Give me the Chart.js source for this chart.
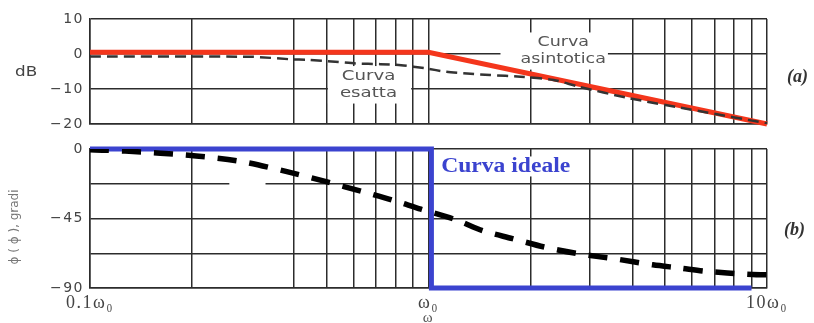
<!DOCTYPE html>
<html>
<head>
<meta charset="utf-8">
<script src="https://cdn.jsdelivr.net/npm/chart.js@4/dist/chart.umd.min.js"></script>
<style>
  html, body { margin: 0; padding: 0; background: #fff; }
  #wrap { position: relative; width: 814px; height: 323px; overflow: hidden; background: #fff; }
  #top { position: absolute; left: 0; top: 0; }
  #bot { position: absolute; left: 0; top: 140px; }
</style>
</head>
<body>
<div id="wrap">
  <canvas id="top" width="814" height="140"></canvas>
  <canvas id="bot" width="814" height="183"></canvas>
</div>
<script>
// ---------- data ----------
const xGridTicks = [0.1, 0.2, 0.4, 0.5, 0.6, 0.7, 0.8, 0.9, 1, 2, 3, 4, 5, 6, 7, 8, 9, 10];
const xLabelValues = [0.1, 1, 10];
const xLabelTexts = ['0.1ω₀', 'ω₀', '10ω₀'];

const magTicks = [-20, -10, 0, 10];
const magTickLabels = ['−20', '−10', '0', '10'];

const phaseGrid = [-90, -67.5, -45, -22.5, 0];
const phaseLabelValues = [-90, -45, 0];
const phaseLabelTexts = ['−90', '−45', '0'];

// magnitude (a)
const asymW  = [0.1, 1, 10];
const asymDb = [0.5, 0.5, -20];
const exactW  = [0.1, 0.3, 0.39, 0.44, 0.53, 0.61, 0.72, 0.83, 0.98, 1.13, 1.3, 1.52, 1.87, 2.34, 2.77, 3.9, 6.3, 10];
const exactDb = [-0.7, -0.8, -1.5, -1.7, -2.2, -2.7, -2.9, -3.2, -4.1, -5.1, -5.6, -6.0, -6.5, -7.4, -9.3, -12.6, -16.3, -19.8];

// phase (b)
const phaseW   = [0.1, 0.112, 0.144, 0.181, 0.228, 0.287, 0.379, 0.505, 0.635, 0.78, 0.95, 1.2, 1.45, 1.77, 2.2, 2.8, 3.6, 4.6, 5.5, 6.7, 8.7, 10];
const phaseDeg = [-0.5, -0.8, -2, -3.5, -5.5, -8.5, -14.5, -21.5, -27.5, -33, -39, -45.7, -53, -58, -63.5, -68, -71.3, -75, -77, -79.3, -81, -81.5];
const idealW   = [0.1, 1.02, 1.02, 9];
const idealDeg = [0, 0, -90, -90];

// ---------- helpers ----------
const pts = (xs, ys) => xs.map((x, i) => ({ x: x, y: ys[i] }));
const GRID = '#2c2c2c';
const TICK = '#444';

function stretched(ctx, text, x, y, font, color, sx) {
  ctx.save();
  ctx.letterSpacing = '0px';
  ctx.font = font;
  ctx.fillStyle = color;
  ctx.textAlign = 'center';
  ctx.textBaseline = 'middle';
  ctx.translate(x, y);
  ctx.scale(sx, 1);
  ctx.fillText(text, 0, 0);
  ctx.restore();
}
function textW(ctx, text, font, sx) {
  ctx.save(); ctx.letterSpacing = '0px'; ctx.font = font;
  const w = ctx.measureText(text).width * sx; ctx.restore(); return w;
}

const spacingPlugin = {
  id: 'spacing',
  beforeDraw(chart) { chart.ctx.letterSpacing = '1.5px'; },
  afterDraw(chart) { chart.ctx.letterSpacing = '0px'; }
};

// annotation boxes with white background, placed in data coordinates
function notesPlugin(notes, masks, extras) {
  return {
    id: 'notes',
    beforeDatasetsDraw(chart) {
      const ctx = chart.ctx, xs = chart.scales.x, ys = chart.scales.y;
      (masks || []).forEach(m => {
        const x1 = xs.getPixelForValue(m.w[0]), x2 = xs.getPixelForValue(m.w[1]);
        const y1 = ys.getPixelForValue(m.v[0]), y2 = ys.getPixelForValue(m.v[1]);
        ctx.save(); ctx.fillStyle = '#fff';
        ctx.fillRect(Math.min(x1, x2), Math.min(y1, y2), Math.abs(x2 - x1), Math.abs(y2 - y1));
        ctx.restore();
      });
      notes.forEach(n => {
        const cx = xs.getPixelForValue(n.w);
        const cys = n.v.map(v => ys.getPixelForValue(v));
        const maxW = Math.max(...n.lines.map(t => textW(ctx, t, n.font, n.sx)));
        const left = n.align === 'left' ? cx : cx - maxW / 2;
        ctx.save(); ctx.fillStyle = '#fff';
        ctx.fillRect(left - n.padL, cys[0] - n.half - n.padY, maxW + n.padL + n.padR,
                     cys[cys.length - 1] - cys[0] + 2 * (n.half + n.padY));
        ctx.restore();
        n.lines.forEach((t, i) => {
          const w = textW(ctx, t, n.font, n.sx);
          stretched(ctx, t, left + (n.align === 'left' ? w / 2 : maxW / 2), cys[i], n.font, n.color, n.sx);
        });
      });
    },
    afterDraw(chart) {
      const ctx = chart.ctx;
      (extras || []).forEach(e => {
        ctx.save(); ctx.letterSpacing = '0px'; ctx.font = e.font; ctx.fillStyle = e.color;
        ctx.textAlign = e.align || 'left'; ctx.textBaseline = 'middle';
        ctx.translate(e.x, e.y); if (e.rot) ctx.rotate(e.rot); ctx.scale(e.sx || 1, 1);
        ctx.fillText(e.text, 0, 0); ctx.restore();
      });
    }
  };
}

const xScaleBase = {
  type: 'logarithmic',
  min: 0.1, max: 10,
  afterBuildTicks(scale) { scale.ticks = xGridTicks.map(v => ({ value: v })); },
  grid: { color: GRID, lineWidth: 1.5, drawTicks: false },
  border: { color: GRID, width: 1.5 }
};

// ---------- top chart (a) ----------
new Chart(document.getElementById('top'), {
  type: 'line',
  data: {
    datasets: [
      { data: pts(exactW, exactDb), borderColor: '#333', borderWidth: 2.5, borderDash: [11, 6],
        pointRadius: 0, tension: 0.25, fill: false },
      { data: pts(asymW, asymDb), borderColor: '#f4361c', borderWidth: 5, pointRadius: 0,
        tension: 0, fill: false, clip: false }
    ]
  },
  options: {
    responsive: false, animation: false, events: [],
    layout: { padding: { left: 0, right: 47, top: 19, bottom: 0 } },
    plugins: { legend: { display: false }, tooltip: { enabled: false } },
    scales: {
      x: Object.assign({}, xScaleBase, {
        ticks: { display: false },
        afterFit(scale) { scale.height = 16; }
      }),
      y: {
        min: -20, max: 10,
        afterBuildTicks(scale) { scale.ticks = magTicks.map(v => ({ value: v })); },
        ticks: {
          color: TICK, padding: 6,
          font: { family: 'DejaVu Sans', size: 14, lineHeight: 0.4 },
          callback: (v) => magTickLabels[magTicks.indexOf(v)]
        },
        grid: { color: GRID, lineWidth: 1.5, drawTicks: false },
        border: { color: GRID, width: 1.5 },
        afterFit(scale) { scale.width = 90; }
      }
    }
  },
  plugins: [spacingPlugin, notesPlugin(
    [
      { lines: ['Curva', 'esatta'], w: 0.665, v: [-6.3, -11.3], font: '14px "DejaVu Sans"',
        color: '#555', sx: 1.3, half: 7, padL: 12, padR: 14, padY: 3 },
      { lines: ['Curva', 'asintotica'], w: 2.5, v: [3.3, -1.6], font: '14px "DejaVu Sans"',
        color: '#555', sx: 1.25, half: 7, padL: 20, padR: 2, padY: 3 }
    ],
    [],
    [
      { text: 'dB', x: 15, y: 72, font: '14px "DejaVu Sans"', color: '#444', sx: 1.2 },
      { text: '(a)', x: 787, y: 77, font: 'italic bold 18px "Liberation Serif"', color: '#333' }
    ]
  )]
});

// ---------- bottom chart (b) ----------
new Chart(document.getElementById('bot'), {
  type: 'line',
  data: {
    datasets: [
      { data: pts(phaseW, phaseDeg), borderColor: '#000', borderWidth: 5.5, borderDash: [19, 13],
        pointRadius: 0, tension: 0.3, fill: false },
      { data: pts(idealW, idealDeg), borderColor: '#3b43cf', borderWidth: 5, pointRadius: 0,
        tension: 0, fill: false, clip: false }
    ]
  },
  options: {
    responsive: false, animation: false, events: [],
    layout: { padding: { left: 0, right: 47, top: 9, bottom: 0 } },
    plugins: { legend: { display: false }, tooltip: { enabled: false } },
    scales: {
      x: Object.assign({}, xScaleBase, {
        ticks: {
          color: TICK, padding: 4, autoSkip: false, maxRotation: 0, minRotation: 0,
          font: { family: 'Liberation Serif', size: 18 },
          callback: (v) => { const i = xLabelValues.indexOf(v); return i >= 0 ? xLabelTexts[i] : ''; }
        },
        title: { display: true, text: 'ω', color: '#555',
                 font: { family: 'Liberation Serif', size: 15 }, padding: { top: 0, bottom: -4 } },
        afterFit(scale) { scale.height = 35; }
      }),
      y: {
        min: -90, max: 0,
        afterBuildTicks(scale) { scale.ticks = phaseGrid.map(v => ({ value: v })); },
        ticks: {
          color: TICK, padding: 6, autoSkip: false,
          font: { family: 'DejaVu Sans', size: 14, lineHeight: 0.4 },
          callback: (v) => { const i = phaseLabelValues.indexOf(v); return i >= 0 ? phaseLabelTexts[i] : ''; }
        },
        grid: { color: GRID, lineWidth: 1.5, drawTicks: false },
        border: { color: GRID, width: 1.5 },
        afterFit(scale) { scale.width = 90; }
      }
    }
  },
  plugins: [spacingPlugin, notesPlugin(
    [
      { lines: ['Curva ideale'], w: 1.09, v: [-11.3], align: 'left',
        font: 'bold 20px "Liberation Serif"', color: '#3b43cf', sx: 1.18, half: 9, padL: 3, padR: 3, padY: 1 }
    ],
    [ { w: [0.258, 0.33], v: [-20.5, -24.5] } ],
    [
      { text: '(b)', x: 784, y: 90, font: 'italic bold 18px "Liberation Serif"', color: '#333' },
      { text: 'ϕ ( ϕ ), gradi', x: 15, y: 87, rot: -Math.PI / 2, align: 'center',
        font: '12px "DejaVu Sans"', color: '#777' }
    ]
  )]
});
</script>
</body>
</html>
